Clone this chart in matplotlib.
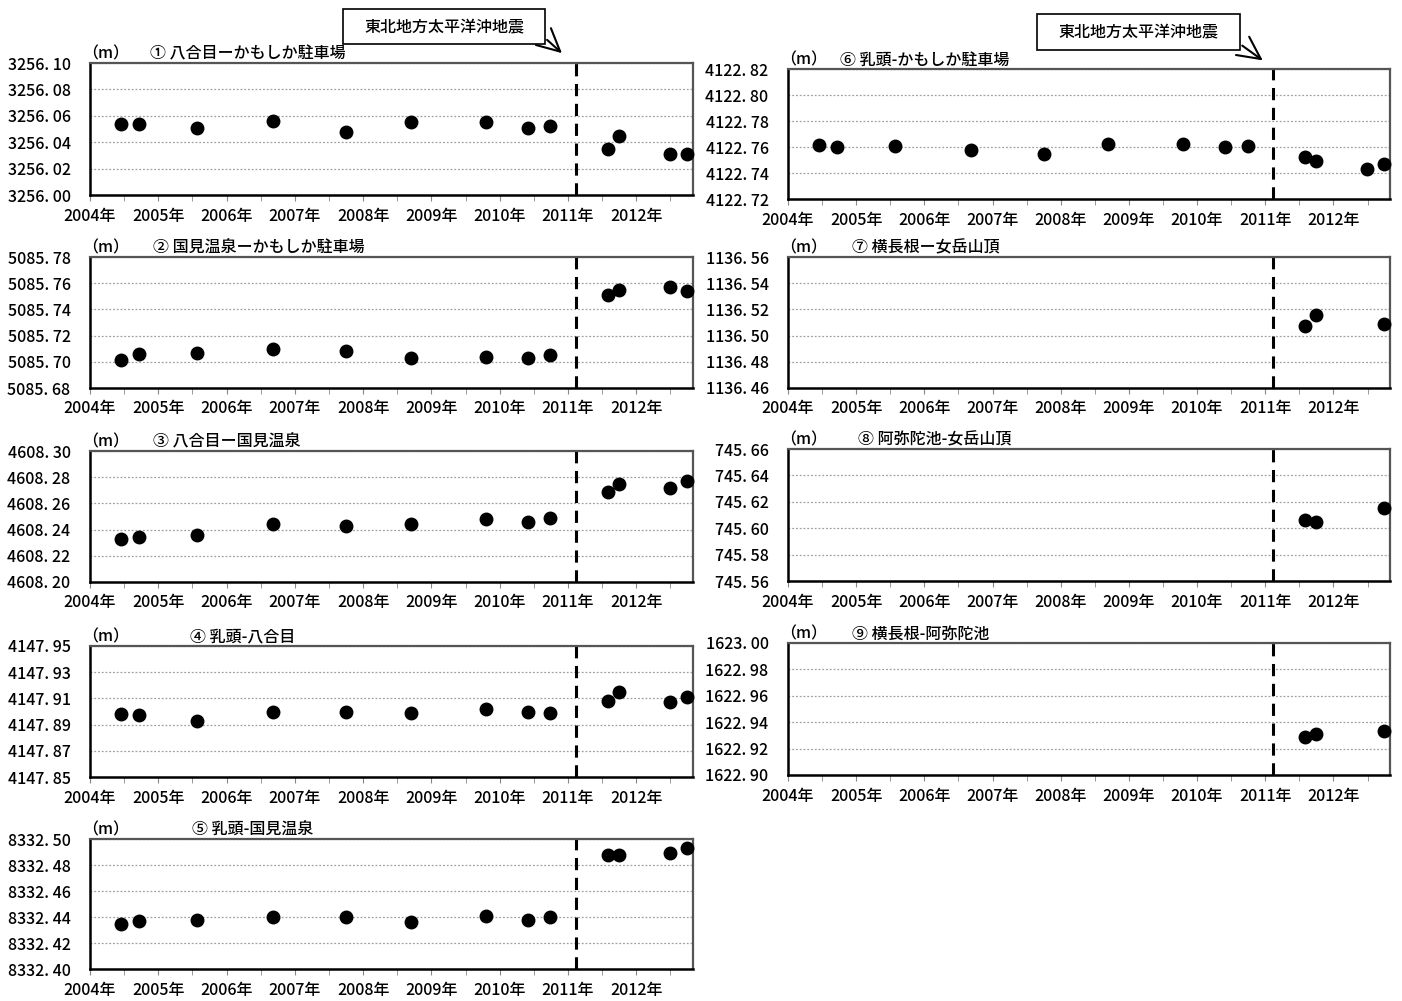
import matplotlib
matplotlib.use("Agg")
import matplotlib.pyplot as plt
from matplotlib.patches import FancyArrowPatch, Rectangle
from matplotlib.ticker import FixedLocator, FuncFormatter, MultipleLocator

plt.rcParams["font.family"] = ["Noto Sans CJK JP", "DejaVu Sans"]
plt.rcParams["font.weight"] = "medium"

# survey dates (decimal years) and measured baseline lengths (m)
DATES = [2004.45, 2004.72, 2005.57, 2006.68, 2007.75, 2008.70, 2009.80,
         2010.41, 2010.74, 2011.58, 2011.75, 2012.49, 2012.74]
DATES_NEW = [2011.58, 2011.75, 2012.74]
QUAKE = 2011.11
YEARS = list(range(2004, 2013))
YEAR_LABELS = [f"{y}年" for y in YEARS]

TITLES = [
    "① 八合目ーかもしか駐車場",
    "② 国見温泉ーかもしか駐車場",
    "③ 八合目ー国見温泉",
    "④ 乳頭-八合目",
    "⑤ 乳頭-国見温泉",
    "⑥ 乳頭-かもしか駐車場",
    "⑦ 横長根ー女岳山頂",
    "⑧ 阿弥陀池-女岳山頂",
    "⑨ 横長根-阿弥陀池",
]
Y_LOW = [3256.00, 5085.68, 4608.20, 4147.85, 8332.40,
         4122.72, 1136.46, 745.56, 1622.90]

HACHIGOME_KAMOSHIKA = [3256.054, 3256.054, 3256.051, 3256.056, 3256.048, 3256.055, 3256.055,
                       3256.051, 3256.052, 3256.035, 3256.045, 3256.031, 3256.031]
KUNIMI_KAMOSHIKA = [5085.701, 5085.706, 5085.707, 5085.710, 5085.708, 5085.703, 5085.704,
                    5085.703, 5085.705, 5085.751, 5085.755, 5085.757, 5085.754]
HACHIGOME_KUNIMI = [4608.233, 4608.234, 4608.236, 4608.244, 4608.243, 4608.244, 4608.248,
                    4608.246, 4608.249, 4608.269, 4608.275, 4608.272, 4608.277]
NYUTO_HACHIGOME = [4147.898, 4147.897, 4147.893, 4147.900, 4147.900, 4147.899, 4147.902,
                   4147.900, 4147.899, 4147.908, 4147.915, 4147.907, 4147.911]
NYUTO_KUNIMI = [8332.435, 8332.437, 8332.438, 8332.440, 8332.440, 8332.436, 8332.441,
                8332.438, 8332.440, 8332.488, 8332.488, 8332.489, 8332.493]
NYUTO_KAMOSHIKA = [4122.7615, 4122.760, 4122.7605, 4122.758, 4122.755, 4122.762, 4122.762,
                   4122.760, 4122.761, 4122.752, 4122.749, 4122.743, 4122.747]
YOKONAGANE_MEDAKE = [1136.507, 1136.516, 1136.509]
AMIDAIKE_MEDAKE = [745.606, 745.605, 745.615]
YOKONAGANE_AMIDAIKE = [1622.929, 1622.931, 1622.933]

SERIES = [
    (DATES, HACHIGOME_KAMOSHIKA),
    (DATES, KUNIMI_KAMOSHIKA),
    (DATES, HACHIGOME_KUNIMI),
    (DATES, NYUTO_HACHIGOME),
    (DATES, NYUTO_KUNIMI),
    (DATES, NYUTO_KAMOSHIKA),
    (DATES_NEW, YOKONAGANE_MEDAKE),
    (DATES_NEW, AMIDAIKE_MEDAKE),
    (DATES_NEW, YOKONAGANE_AMIDAIKE),
]

W, H = 1402, 1001
# axes boxes in pixels: x0, top, x1, bottom
BOXES = [
    (90, 63, 693, 195), (90, 257, 693, 388), (90, 451, 693, 582),
    (90, 646, 693, 777), (90, 839, 693, 969),
    (788, 69, 1390, 199), (788, 257, 1390, 388), (788, 449, 1390, 581),
    (788, 643, 1390, 775),
]
TITLE_X = [150, 153, 153, 190, 192, 840, 852, 858, 852]


def fig_rect(x0, top, x1, bottom):
    return [x0 / W, 1 - bottom / H, (x1 - x0) / W, (bottom - top) / H]


def ylabel_fmt(v, _pos):
    return f"{v:.2f}".replace(".", ". ")


fig = plt.figure(figsize=(W / 100, H / 100), dpi=100)

for i, (box, title, low, (xs, ys)) in enumerate(zip(BOXES, TITLES, Y_LOW, SERIES)):
    ax = fig.add_axes(fig_rect(*box))
    ax.set_xlim(2004.0, 2012.83)
    ax.set_ylim(low, low + 0.10)
    ax.yaxis.set_major_locator(FixedLocator([low + 0.02 * k for k in range(6)]))
    ax.yaxis.set_major_formatter(FuncFormatter(ylabel_fmt))
    ax.set_xticks(YEARS)
    ax.set_xticklabels(YEAR_LABELS)
    ax.xaxis.set_minor_locator(MultipleLocator(0.5))
    ax.tick_params(axis="x", which="both", direction="out", length=4,
                   color="#888888", labelsize=11.5, pad=5)
    ax.tick_params(axis="y", length=0, labelsize=11.5, pad=14)
    ax.grid(axis="y", color="#a0a0a0", linestyle=(0, (1.5, 1.5)), linewidth=0.9)
    for side in ("left", "bottom"):
        ax.spines[side].set_linewidth(1.8)
        ax.spines[side].set_color("black")
    for side in ("top", "right"):
        ax.spines[side].set_linewidth(1.6)
        ax.spines[side].set_color("#555555")

    ax.axvline(QUAKE, color="black", linewidth=2.2, linestyle=(0, (4, 2.5)))
    ax.plot(xs, ys, "o", color="black", markersize=9, clip_on=False, zorder=5)

    x0, top = box[0], box[1]
    fig.text((x0 - 8) / W, 1 - (top - 9) / H, "（m）", fontsize=11.5,
             ha="left", va="center")
    fig.text(TITLE_X[i] / W, 1 - (top - 9) / H, title, fontsize=11.5,
             ha="left", va="center")

# earthquake callouts
for bx0, by0, bx1, by1, tip in [
    (343, 9, 545, 44, (564, 55)),
    (1037, 14, 1240, 50, (1265, 62)),
]:
    fig.patches.append(Rectangle((bx0 / W, 1 - by1 / H), (bx1 - bx0) / W, (by1 - by0) / H,
                                 transform=fig.transFigure, facecolor="white",
                                 edgecolor="black", linewidth=1.2))
    fig.text((bx0 + bx1) / 2 / W, 1 - (by0 + by1) / 2 / H, "東北地方太平洋沖地震",
             fontsize=11.5, ha="center", va="center")
    fig.add_artist(FancyArrowPatch(
        (bx1 / W, 1 - (by1 - 6) / H), (tip[0] / W, 1 - tip[1] / H),
        transform=fig.transFigure, arrowstyle="->,head_length=0.9,head_width=0.45",
        mutation_scale=18, linewidth=1.5, color="black"))

fig.savefig("out.png", dpi=100)
